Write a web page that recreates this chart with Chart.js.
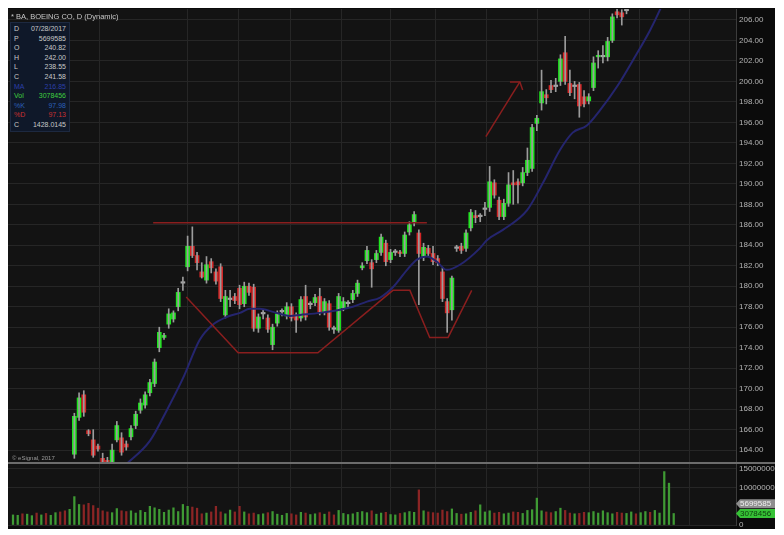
<!DOCTYPE html>
<html>
<head>
<meta charset="utf-8">
<script src="https://cdn.jsdelivr.net/npm/chart.js@4.4.1/dist/chart.umd.min.js"></script>
<style>
  html, body { margin: 0; padding: 0; background: #fff; }
  #wrap { position: relative; width: 784px; height: 535px; overflow: hidden; font-family: "Liberation Sans", Arial, sans-serif; }
  #panel { position: absolute; left: 8px; top: 8px; width: 767px; height: 520px; background: #0b0b0b; }
  #priceCanvas { position: absolute; left: 8px; top: 9px; }
  #volCanvas { position: absolute; left: 8px; top: 463px; }
  #sep { position: absolute; left: 8px; top: 462px; width: 767px; height: 2px; background: #6c6c6c; }
  #title { position: absolute; left: 11px; top: 12px; font-size: 7.5px; color: #c8c8c8; white-space: nowrap; }
  #info { position: absolute; left: 10px; top: 22px; width: 58px; background: #0f1829; border: 1px solid #1d2940; font-size: 7px; padding: 1px 0; }
  #info div { display: flex; justify-content: space-between; height: 9.6px; line-height: 9.6px; padding: 0 3px; color: #c8c8c8; }
  #credit { position: absolute; left: 12px; top: 455px; font-size: 6px; color: #9a9a9a; }
</style>
</head>
<body>
<div id="wrap">
  <div id="panel"></div>
  <canvas id="priceCanvas" width="767" height="453"></canvas>
  <canvas id="volCanvas" width="767" height="66"></canvas>
  <div id="sep"></div>
  <div id="title">* BA, BOEING CO, D (Dynamic)</div>
  <div id="info"></div>
  <div id="credit">© eSignal, 2017</div>
</div>
<script>
// ---- data (bar index 0..140, null = off the price scale)
const openP = [
  null,null,null,null,null,null,null,null,null,null,
  null,null,null,163.6,167.2,169.4,165.9,165.0,164.4,163.2,
  163.0,162.6,165.0,165.2,164.6,165.3,166.4,167.9,168.4,169.6,
  170.5,174.0,175.0,176.3,176.8,178.0,180.3,181.9,183.9,183.0,
  181.4,180.6,182.4,181.4,181.9,177.2,178.7,179.0,179.8,178.3,
  180.0,179.9,175.9,177.3,176.9,174.3,176.4,177.5,177.1,178.0,
  177.2,176.9,179.0,178.2,178.4,179.0,177.5,178.3,175.8,175.7,
  177.9,178.3,178.7,179.3,181.8,182.5,182.3,182.6,183.3,184.2,
  182.6,183.3,183.3,183.2,185.3,186.2,185.2,182.9,183.7,183.2,
  182.7,181.4,178.5,177.7,183.7,183.9,183.7,185.7,186.9,186.8,
  187.5,187.7,190.1,188.4,186.8,188.1,190.1,190.2,190.1,191.1,
  191.5,195.9,197.9,198.7,199.6,199.5,200.0,202.8,199.8,199.5,
  199.7,198.5,198.1,199.4,202.4,202.4,202.4,204.0,206.8,206.7,
  206.9,null,null,null,null,null,null,null,null,null,null
];
const highP = [
  null,null,null,null,null,null,null,null,null,null,
  null,null,null,167.6,169.6,169.8,166.0,166.0,164.6,163.7,
  163.3,164.6,166.8,165.7,164.9,166.4,167.8,169.0,169.7,170.9,
  172.9,176.0,175.4,177.8,177.6,179.8,180.9,184.9,185.8,183.3,
  182.3,182.9,182.7,181.7,182.2,179.6,179.6,179.3,180.1,180.4,
  180.3,180.2,177.3,177.7,177.2,176.3,177.6,177.8,178.4,178.3,
  177.4,179.0,180.1,178.5,179.2,179.8,178.8,178.6,176.1,179.3,
  178.9,178.6,179.6,180.6,182.3,183.9,182.6,183.5,185.1,184.5,
  183.6,183.6,183.5,185.3,186.3,187.3,185.5,184.2,184.0,183.9,
  183.0,181.8,178.8,181.0,184.0,184.2,185.5,187.5,187.4,187.1,
  188.2,191.7,190.4,188.7,188.5,191.1,191.3,190.5,191.6,193.5,
  195.8,196.7,201.1,199.2,200.1,200.3,202.6,204.4,201.1,200.0,
  199.9,199.1,198.8,202.4,203.0,203.5,204.3,206.6,207.2,207.0,
  207.5,null,null,null,null,null,null,null,null,null,null
];
const lowP = [
  null,null,null,null,null,null,null,null,null,null,
  null,null,null,163.2,166.9,167.3,165.4,163.3,163.9,162.3,
  162.3,162.3,164.8,163.5,164.0,165.0,166.1,167.6,168.1,169.3,
  170.2,173.6,174.8,175.9,176.5,177.6,179.6,181.5,182.8,181.6,
  180.8,180.3,181.3,180.2,178.5,176.9,178.0,178.3,177.8,178.0,
  179.1,175.6,175.5,176.8,175.5,173.8,176.1,177.1,176.8,176.6,
  175.5,176.6,176.7,177.8,178.1,177.2,177.2,175.7,175.4,175.5,
  177.6,178.0,178.4,179.0,181.6,182.2,179.9,182.3,183.0,182.0,
  182.3,183.0,182.9,182.9,185.0,185.9,178.2,182.5,182.9,182.1,
  182.0,178.5,175.5,176.7,183.4,183.2,183.4,185.4,186.2,186.3,
  186.9,187.3,188.6,186.5,186.5,187.8,188.0,188.1,189.8,190.8,
  191.2,195.2,197.2,197.8,198.9,199.0,199.6,199.7,198.6,198.3,
  196.5,197.5,197.8,199.1,201.3,201.8,202.0,203.8,206.2,205.5,
  206.6,null,null,null,null,null,null,null,null,null,null
];
const closeP = [
  null,null,null,null,null,null,null,null,null,null,
  null,null,null,167.3,169.1,167.7,165.6,163.5,164.1,162.6,
  162.6,164.0,166.4,163.8,164.3,166.1,167.5,168.6,169.4,170.6,
  172.6,175.5,175.2,177.3,177.4,179.4,180.3,183.9,183.0,182.3,
  180.9,182.1,181.8,180.5,178.8,179.0,178.7,178.6,178.2,180.0,
  179.4,175.9,177.0,177.3,175.8,176.0,177.3,177.5,178.0,176.9,
  176.7,178.7,177.0,178.2,178.9,177.5,178.5,176.0,175.8,179.0,
  178.5,178.3,179.3,180.3,182.0,183.5,181.7,183.2,184.8,182.4,
  183.3,183.3,183.2,185.0,186.0,187.0,183.2,183.8,183.2,182.4,
  182.3,178.8,177.4,180.8,183.7,183.5,185.2,187.2,186.7,186.8,
  187.5,190.2,188.9,186.8,188.1,189.9,189.9,189.9,191.1,192.3,
  195.5,196.4,199.0,198.4,199.2,199.5,202.2,200.0,198.9,199.5,
  197.6,197.8,198.5,201.8,202.5,202.4,203.9,206.3,206.5,206.3,
  206.9,null,null,null,null,null,null,null,null,null,null
];
// volume in millions of shares, and 1 = up day (green), 0 = down day (red)
const volumeM = [
  2.7,2.6,3.0,2.9,2.5,3.2,2.7,3.1,2.6,3.3,
  3.5,3.8,4.2,7.6,5.5,5.4,5.8,5.2,4.5,3.8,
  3.5,3.3,4.4,3.8,3.6,3.8,3.2,3.9,3.4,5.0,
  4.6,4.2,3.4,4.0,4.6,3.6,5.5,5.0,4.8,4.5,
  3.0,3.2,3.5,5.0,3.5,3.0,4.0,3.5,5.0,3.5,
  3.0,3.2,2.8,3.0,3.3,3.6,2.9,2.6,3.1,3.0,
  2.7,3.4,3.2,2.8,3.0,3.3,2.9,3.5,2.7,3.9,
  3.1,2.8,3.0,3.4,3.6,3.3,3.8,2.9,3.2,3.4,
  2.8,2.7,3.1,3.3,3.6,3.4,9.4,3.8,3.5,3.3,
  3.2,4.0,3.6,4.3,3.1,2.9,3.0,3.4,3.8,5.4,
  3.5,3.8,3.2,3.4,3.0,3.2,3.5,3.4,3.1,3.9,
  4.1,7.2,3.8,3.5,3.3,3.6,4.5,3.9,3.2,3.0,
  3.1,3.4,3.3,3.6,3.2,3.8,3.3,3.0,3.4,3.2,
  3.1,3.5,3.0,3.3,3.6,3.4,3.9,3.2,14.3,11.2,
  3.08
];
const volUp = [
  1,1,0,1,1,0,1,0,1,1,
  0,0,1,1,1,0,0,0,0,0,
  0,1,1,0,0,1,1,1,1,1,
  1,1,1,1,1,1,1,1,0,0,
  0,1,0,0,0,1,1,0,0,1,
  0,0,1,1,0,1,1,1,1,0,
  0,1,0,1,1,0,1,0,0,1,
  1,1,1,1,1,1,0,1,1,0,
  1,1,0,1,1,1,0,1,0,0,
  0,0,0,1,1,0,1,1,0,1,
  1,1,0,0,1,1,0,0,1,1,
  1,1,1,0,0,1,1,0,0,1,
  0,0,1,1,1,1,1,1,0,0,
  1,1,0,1,1,0,1,1,1,1,
  1
];
// moving average line (bar index, price)
const maIdx = [23.7,29.0,32.6,36.0,39.6,42.2,45.3,48.1,50.2,52.3,55.1,58.7,60.8,65.0,69.3,72.0,75.0,77.8,80.5,83.5,85.6,87.7,89.8,91.9,94.7,98.9,100.4,103.8,108.9,112.3,115.9,118.6,121.6,124.4,128.0,131.4,135.0,137.1,138.0];
const maVal = [162.5,164.9,167.9,171.0,174.8,176.2,177.0,177.4,177.8,177.8,177.5,177.1,177.2,177.4,177.7,178.0,178.5,178.9,179.9,181.6,182.6,182.9,182.4,181.6,182.1,183.7,184.5,185.5,187.4,190.1,193.3,195.0,195.7,197.2,199.5,202.1,205.0,207.0,208.0];
// hand-drawn annotation lines (bar index, price)
const resX = [29.7, 87.7], resY = [186.2, 186.2];
const cupX = [36.7, 47.7, 64.6, 80.5, 84.1, 88.3, 92.2, 97.2];
const cupY = [178.95, 173.5, 173.5, 179.6, 179.6, 175.0, 175.0, 179.6];
const arrowX = [100.2, 107.4], arrowY = [194.6, 199.95];
const headX = [105.3, 107.4, 108.0], headY = [199.95, 199.95, 199.16];
// axis ticks
const priceTicks = [164,166,168,170,172,174,176,178,180,182,184,186,188,190,192,194,196,198,200,202,204,206];
const volTicks = [0, 10, 15];
const timeGrid = [18.4, 36.9, 47.7, 58.7, 69.7, 79.9, 89.6, 100.4, 111.2, 122.2, 132.8, 143.4];
const volMarks = [
  { value: 5.699585, text: '5699585', bg: '#8e8e8e', fg: '#f0f0f0' },
  { value: 3.078456, text: '3078456', bg: '#36c236', fg: '#0d3d0d' }
];
const infoRows = [
  ['D', '07/28/2017', '#c8c8c8'], ['P', '5699585', '#c8c8c8'], ['O', '240.82', '#c8c8c8'],
  ['H', '242.00', '#c8c8c8'], ['L', '238.55', '#c8c8c8'], ['C', '241.58', '#c8c8c8'],
  ['MA', '216.85', '#2b3fa8'], ['Vol', '3078456', '#3fcf3f'], ['%K', '97.98', '#2b5fb8'],
  ['%D', '97.13', '#c83030'], ['C', '1428.0145', '#c8c8c8']
];

// info box
document.getElementById('info').innerHTML = infoRows.map(r =>
  '<div style="color:' + r[2] + '"><span>' + r[0] + '</span><span>' + r[1] + '</span></div>').join('');

const UP = '#1ee61e', DOWN = '#d42626', FLAT = '#a8a8a8';
const idx = openP.map((v, i) => i);
const shown = idx.filter(i => openP[i] !== null);
const candleCol = i => closeP[i] > openP[i] ? UP : (closeP[i] < openP[i] ? DOWN : FLAT);
const pts = (xs, ys) => xs.map((x, k) => ({ x: x, y: ys[k] }));

const X_MIN = -1.06, X_MAX = 153.2;
const GRID = '#262626';

const bgPlugin = {
  id: 'bg',
  beforeDraw(chart) {
    const { ctx, chartArea: a } = chart;
    ctx.save();
    ctx.fillStyle = '#0b0b0b';
    ctx.fillRect(0, 0, chart.width, chart.height);
    ctx.fillStyle = '#131313';
    ctx.fillRect(a.left, a.top, a.right - a.left, a.bottom - a.top);
    ctx.restore();
  }
};

// no extra padding from the scales, the plot fills the canvas
function noPad(s) {
  s.paddingTop = 0; s.paddingBottom = 0; s.paddingLeft = 0; s.paddingRight = 0;
}

function xScale() {
  return {
    type: 'linear', min: X_MIN, max: X_MAX, offset: false,
    afterBuildTicks: s => { s.ticks = timeGrid.map(v => ({ value: v })); },
    afterFit: s => { s.height = 0; noPad(s); },
    ticks: { display: false },
    grid: { color: GRID, drawTicks: false, offset: false },
    border: { display: false }
  };
}

function yScale(min, max, ticks, fmt) {
  return {
    position: 'right', min: min, max: max,
    afterBuildTicks: s => { s.ticks = ticks.map(v => ({ value: v })); },
    afterFit: s => { s.width = 39; noPad(s); },
    ticks: { color: '#b4b4b4', font: { size: 8, family: 'Liberation Sans' }, padding: 3, callback: fmt },
    grid: { color: GRID, drawTicks: false },
    border: { color: '#3c3c3c' }
  };
}

function lineSet(data, color, width) {
  return { type: 'line', data: data, borderColor: color, borderWidth: width, pointRadius: 0, fill: false, tension: 0 };
}

new Chart(document.getElementById('priceCanvas'), {
  type: 'bar',
  data: {
    datasets: [
      lineSet(pts(resX, resY), '#8a1e1e', 1.5),
      lineSet(pts(cupX, cupY), '#8a1e1e', 1.5),
      lineSet(pts(arrowX, arrowY), '#8a1e1e', 1.5),
      lineSet(pts(headX, headY), '#8a1e1e', 1.5),
      Object.assign(lineSet(pts(maIdx, maVal), '#25256e', 2), { cubicInterpolationMode: 'monotone' }),
      {
        data: shown.map(i => ({ x: i, y: [lowP[i], highP[i]] })),
        backgroundColor: '#9c9c9c', barThickness: 1, grouped: false, minBarLength: 1
      },
      {
        data: shown.map(i => ({ x: i, y: [openP[i], closeP[i]] })),
        backgroundColor: shown.map(candleCol), barThickness: 4, grouped: false, minBarLength: 1.5
      }
    ]
  },
  options: {
    responsive: false, animation: false, devicePixelRatio: 1,
    layout: { padding: 0, autoPadding: false },
    plugins: { legend: { display: false }, tooltip: { enabled: false } },
    scales: {
      x: xScale(),
      y: yScale(162.84, 207.07, priceTicks, v => v.toFixed(2))
    }
  },
  plugins: [bgPlugin]
});

const volMarkPlugin = {
  id: 'volMarks',
  afterDraw(chart) {
    const { ctx, chartArea: a } = chart;
    const ys = chart.scales.y;
    ctx.save();
    ctx.font = '8px "Liberation Sans"';
    ctx.textBaseline = 'middle';
    volMarks.forEach(m => {
      const y = ys.getPixelForValue(m.value);
      ctx.fillStyle = m.bg;
      ctx.beginPath();
      ctx.moveTo(a.right, y);
      ctx.lineTo(a.right + 4, y - 4.5);
      ctx.lineTo(chart.width, y - 4.5);
      ctx.lineTo(chart.width, y + 4.5);
      ctx.lineTo(a.right + 4, y + 4.5);
      ctx.closePath();
      ctx.fill();
      ctx.fillStyle = m.fg;
      ctx.fillText(m.text, a.right + 4, y + 0.5);
    });
    ctx.restore();
  }
};

new Chart(document.getElementById('volCanvas'), {
  type: 'bar',
  data: {
    datasets: [{
      data: idx.map(i => ({ x: i, y: volumeM[i] })),
      backgroundColor: idx.map(i => volUp[i] ? '#3f9a34' : '#8c2525'),
      barThickness: 1.6, grouped: false
    }]
  },
  options: {
    responsive: false, animation: false, devicePixelRatio: 1,
    layout: { padding: { bottom: 4 }, autoPadding: false },
    plugins: { legend: { display: false }, tooltip: { enabled: false } },
    scales: {
      x: xScale(),
      y: yScale(0, 16.6, volTicks, v => String(Math.round(v * 1e6)))
    }
  },
  plugins: [bgPlugin, volMarkPlugin]
});
</script>
</body>
</html>
